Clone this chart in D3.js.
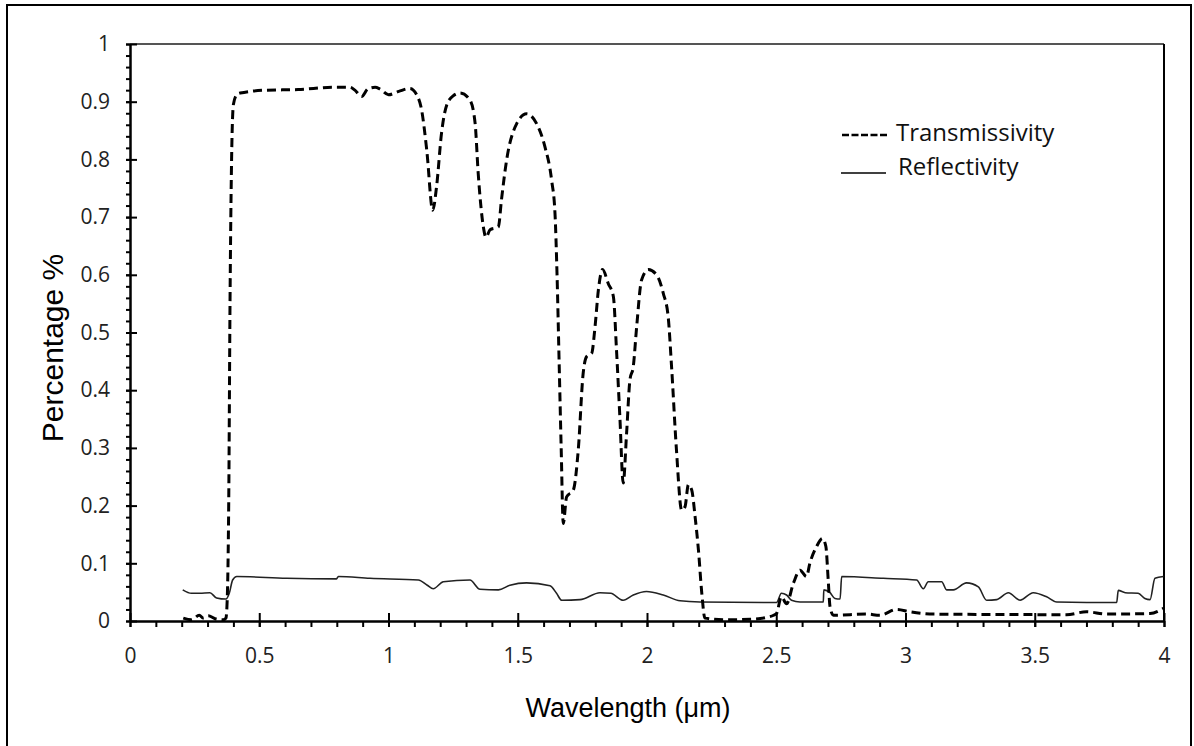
<html>
	<head>
		<title>Transmissivity and Reflectivity</title>
		<style type='text/css'>
			body {
				margin: 0;
				background: #fff;
			}
			.tick text {
				font-family: "Open Sans", sans-serif;
				font-size: 21px;
				fill: #222;
			}
			.axis path, .axis line {
				stroke: #000;
				stroke-width: 2px;
			}
			.title {
				font-family: "Liberation Sans", Arial, sans-serif;
				fill: #000;
			}
			.legend text {
				font-family: "Open Sans", sans-serif;
				font-size: 24px;
				fill: #111;
			}
		</style>
	</head>
	<body>
		<script type="text/javascript" src="https://cdn.jsdelivr.net/npm/d3@7/dist/d3.min.js"></script>
		<script type="text/javascript">
			// transmissivity curve (wavelength in um, fraction)
			var transWave = [0.206, 0.238, 0.268, 0.284, 0.303, 0.329, 0.361, 0.371, 0.376, 0.382, 0.387, 0.393, 0.400, 0.413, 0.426,
				0.529, 0.65, 0.787, 0.851, 0.870, 0.896, 0.920, 0.948, 0.967, 1.000, 1.040, 1.083, 1.109, 1.128, 1.148, 1.171, 1.186,
				1.205, 1.225, 1.250, 1.277, 1.315, 1.335, 1.347, 1.367, 1.377, 1.393, 1.425, 1.437, 1.457, 1.496, 1.534, 1.573,
				1.605, 1.631, 1.644, 1.652, 1.660, 1.668, 1.676, 1.689, 1.715, 1.734, 1.753, 1.766, 1.786, 1.799, 1.812, 1.828,
				1.850, 1.870, 1.882, 1.895, 1.908, 1.921, 1.934, 1.947, 1.960, 1.979, 2.005, 2.037, 2.063, 2.082, 2.095, 2.114,
				2.134, 2.147, 2.160, 2.173, 2.186, 2.199, 2.212, 2.224, 2.30, 2.40, 2.46, 2.49, 2.501, 2.520, 2.540, 2.566, 2.592,
				2.617, 2.630, 2.656, 2.679, 2.692, 2.701, 2.708, 2.721, 2.85, 2.90, 2.966, 3.017, 3.108, 3.623, 3.70, 3.778, 3.946, 3.998];
			var transValue = [0.005, 0.002, 0.010, 0.005, 0.009, 0.004, 0.002, 0.005, 0.036, 0.21, 0.556, 0.80, 0.895, 0.912, 0.915,
				0.920, 0.921, 0.925, 0.925, 0.920, 0.909, 0.922, 0.925, 0.922, 0.912, 0.918, 0.923, 0.912, 0.886, 0.816, 0.712, 0.753,
				0.845, 0.894, 0.910, 0.915, 0.903, 0.863, 0.776, 0.683, 0.665, 0.678, 0.683, 0.730, 0.799, 0.862, 0.879, 0.862,
				0.822, 0.764, 0.707, 0.600, 0.45, 0.30, 0.169, 0.215, 0.227, 0.296, 0.429, 0.458, 0.464, 0.510, 0.574, 0.609,
				0.585, 0.562, 0.470, 0.354, 0.239, 0.325, 0.418, 0.441, 0.510, 0.591, 0.609, 0.600, 0.568, 0.527, 0.441, 0.296,
				0.192, 0.198, 0.236, 0.227, 0.181, 0.123, 0.048, 0.005, 0.002, 0.003, 0.006, 0.010, 0.013, 0.042, 0.030, 0.065, 0.088,
				0.077, 0.100, 0.129, 0.143, 0.129, 0.071, 0.025, 0.010, 0.012, 0.010, 0.020, 0.016, 0.012, 0.011, 0.016, 0.012, 0.013, 0.022];

			// reflectivity curve
			var reflWave = [0.204, 0.238, 0.270, 0.309, 0.335, 0.371, 0.384, 0.397, 0.413, 0.606, 0.799, 0.806, 0.928, 1.116, 1.150,
				1.173, 1.212, 1.315, 1.354, 1.425, 1.470, 1.534, 1.625, 1.650, 1.670, 1.741, 1.818, 1.860, 1.908, 1.947, 1.998,
				2.063, 2.128, 2.205, 2.501, 2.520, 2.540, 2.559, 2.592, 2.682, 2.684, 2.708, 2.727, 2.747, 2.753, 2.914, 3.043,
				3.069, 3.088, 3.140, 3.159, 3.185, 3.236, 3.282, 3.314, 3.353, 3.398, 3.443, 3.494, 3.546, 3.585, 3.817, 3.823,
				3.850, 3.900, 3.926, 3.946, 3.965, 3.998];
			var reflValue = [0.054, 0.048, 0.048, 0.049, 0.040, 0.038, 0.048, 0.071, 0.077, 0.074, 0.073, 0.077, 0.074, 0.071, 0.062,
				0.056, 0.068, 0.071, 0.055, 0.054, 0.062, 0.066, 0.061, 0.048, 0.036, 0.037, 0.049, 0.048, 0.036, 0.045, 0.051,
				0.045, 0.035, 0.033, 0.032, 0.048, 0.045, 0.036, 0.033, 0.033, 0.054, 0.049, 0.039, 0.038, 0.077, 0.074, 0.071,
				0.056, 0.068, 0.068, 0.054, 0.054, 0.066, 0.059, 0.036, 0.037, 0.049, 0.036, 0.049, 0.042, 0.033, 0.032, 0.053,
				0.049, 0.048, 0.039, 0.037, 0.074, 0.077];

			var xMajor = [0, 0.5, 1, 1.5, 2, 2.5, 3, 3.5, 4];
			var xMinor = d3.range(0, 41).map(function(i) { return i / 10; });
			var yMajor = [0, 0.1, 0.2, 0.3, 0.4, 0.5, 0.6, 0.7, 0.8, 0.9, 1];
			var yMinor = d3.range(0, 51).map(function(i) { return i / 50; });

			var width = 1194,
				height = 746,
				plotLeft = 130,
				plotTop = 44,
				plotRight = 1164,
				plotBottom = 621;

			var svg = d3.select("body").append("svg")
				.attr("width", width)
				.attr("height", height);

			// outer box
			svg.append("rect")
				.attr("x", 7).attr("y", 5)
				.attr("width", 1184).attr("height", 760)
				.attr("fill", "none")
				.attr("stroke", "#000")
				.attr("stroke-width", 2);

			var x = d3.scaleLinear().domain([0, 4]).range([plotLeft, plotRight]);
			var y = d3.scaleLinear().domain([0, 1]).range([plotBottom, plotTop]);

			// top and right frame
			svg.append("line")
				.attr("x1", plotLeft).attr("x2", plotRight)
				.attr("y1", plotTop).attr("y2", plotTop)
				.attr("stroke", "#555").attr("stroke-width", 2);
			svg.append("line")
				.attr("x1", plotRight).attr("x2", plotRight)
				.attr("y1", plotTop).attr("y2", plotBottom)
				.attr("stroke", "#000").attr("stroke-width", 2);

			// minor ticks
			svg.append("g")
				.attr("class", "axis")
				.attr("transform", "translate(0," + plotBottom + ")")
				.call(d3.axisBottom(x).tickValues(xMinor).tickFormat("").tickSize(6).tickSizeOuter(0));
			svg.append("g")
				.attr("class", "axis")
				.attr("transform", "translate(" + plotLeft + ",0)")
				.call(d3.axisLeft(y).tickValues(yMinor).tickFormat("").tickSize(4).tickSizeOuter(0));

			// major ticks, crossing the axis line
			var xAxis = svg.append("g")
				.attr("class", "axis")
				.attr("transform", "translate(0," + plotBottom + ")")
				.call(d3.axisBottom(x).tickValues(xMajor).tickFormat(d3.format("")).tickSize(6).tickPadding(21).tickSizeOuter(0));
			xAxis.selectAll(".tick line").attr("y1", -8);

			var yAxis = svg.append("g")
				.attr("class", "axis")
				.attr("transform", "translate(" + plotLeft + ",0)")
				.call(d3.axisLeft(y).tickValues(yMajor).tickFormat(d3.format("")).tickSize(4).tickPadding(16).tickSizeOuter(0));
			yAxis.selectAll(".tick line").attr("x1", 7);

			var line = d3.line()
				.x(function(d) { return x(d[0]); })
				.y(function(d) { return y(d[1]); })
				.curve(d3.curveMonotoneX);

			var refl = d3.zip(reflWave, reflValue);
			var trans = d3.zip(transWave, transValue);

			svg.append("path")
				.datum(refl)
				.attr("d", line)
				.attr("fill", "none")
				.attr("stroke", "#222")
				.attr("stroke-width", 1.6);

			svg.append("path")
				.datum(trans)
				.attr("d", line)
				.attr("fill", "none")
				.attr("stroke", "#000")
				.attr("stroke-width", 3)
				.attr("stroke-dasharray", "9,5");

			// axis titles
			svg.append("text")
				.attr("class", "title")
				.attr("x", 628).attr("y", 717)
				.attr("text-anchor", "middle")
				.attr("font-size", 27)
				.text("Wavelength (\u03bcm)");

			svg.append("text")
				.attr("class", "title")
				.attr("transform", "translate(63,348) rotate(-90)")
				.attr("text-anchor", "middle")
				.attr("font-size", 30)
				.text("Percentage %");

			// legend
			var legend = svg.append("g").attr("class", "legend");
			legend.append("line")
				.attr("x1", 842).attr("x2", 887)
				.attr("y1", 135).attr("y2", 135)
				.attr("stroke", "#000").attr("stroke-width", 2.5)
				.attr("stroke-dasharray", "7,2.5");
			legend.append("text")
				.attr("x", 896).attr("y", 141)
				.text("Transmissivity");
			legend.append("line")
				.attr("x1", 841).attr("x2", 886)
				.attr("y1", 173).attr("y2", 173)
				.attr("stroke", "#000").attr("stroke-width", 1.5);
			legend.append("text")
				.attr("x", 898).attr("y", 175)
				.text("Reflectivity");
		</script>
	</body>
</html>
